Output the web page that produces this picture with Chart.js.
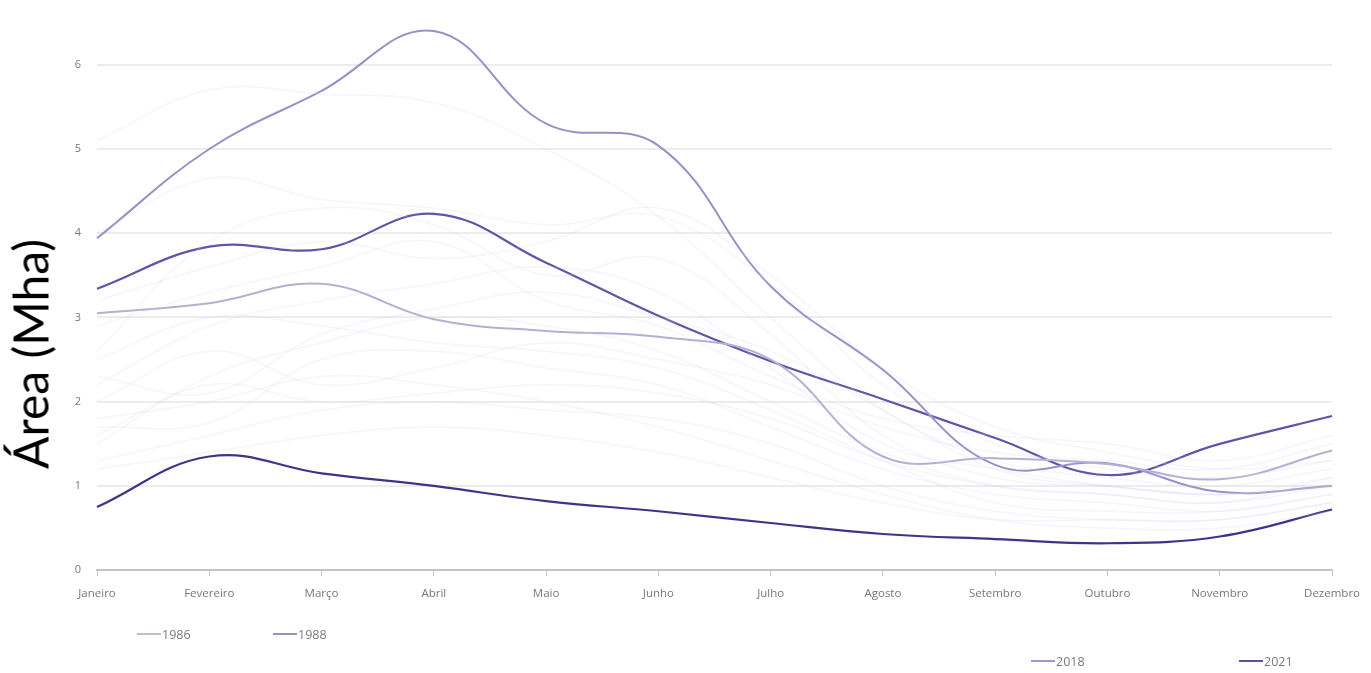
<!DOCTYPE html>
<html lang="pt">
<head>
    <meta charset="UTF-8">
    <title>Área queimada mensal</title>
    <script src="https://cdn.jsdelivr.net/npm/chart.js"></script>
    <style>
        html, body { margin: 0; padding: 0; background: #fff; }
        #wrap { position: relative; width: 1371px; height: 673px; }
        .leg { position: absolute; font: 12.5px "Open Sans", sans-serif; color: #7a7a7a; display: flex; align-items: center; height: 16px; }
        .leg span.sw { display: inline-block; width: 24px; height: 2px; margin-right: 1px; }
        #ytitle {
            position: absolute; left: 30px; top: 354px;
            transform: translate(-50%, -50%) rotate(-90deg);
            font: 48px Lato, sans-serif; color: #000; white-space: nowrap;
        }
    </style>
</head>
<body>
    <div id="wrap">
        <canvas id="myChart" width="1371" height="673"></canvas>
        <div id="ytitle">Área (Mha)</div>
        <div class="leg" style="left:137px; top:626px;"><span class="sw" style="background:#c2bcd6"></span>1986</div>
        <div class="leg" style="left:273px; top:626px;"><span class="sw" style="background:#9a92bc"></span>1988</div>
        <div class="leg" style="left:1031px; top:653px;"><span class="sw" style="background:#a592d0"></span>2018</div>
        <div class="leg" style="left:1239px; top:653px;"><span class="sw" style="background:#5a54a4"></span>2021</div>
    </div>

    <script>
        // meses
        const months = ['Janeiro', 'Fevereiro', 'Março', 'Abril', 'Maio', 'Junho', 'Julho', 'Agosto', 'Setembro', 'Outubro', 'Novembro', 'Dezembro'];

        // anos destacados (Mha)
        const y1986 = [3.05, 3.17, 3.40, 2.98, 2.84, 2.77, 2.50, 1.35, 1.33, 1.26, 1.08, 1.42];
        const y1988 = [3.94, 5.00, 5.69, 6.40, 5.30, 5.04, 3.37, 2.38, 1.25, 1.27, 0.93, 1.00];
        const y2018 = [3.34, 3.84, 3.81, 4.23, 3.65, 3.02, 2.48, 2.03, 1.57, 1.13, 1.50, 1.83];
        const y2021 = [0.75, 1.35, 1.15, 1.00, 0.82, 0.70, 0.56, 0.43, 0.37, 0.32, 0.40, 0.72];

        // demais anos (linhas de fundo)
        const otherYears = [
            [5.1, 5.7, 5.65, 5.55, 5.0, 4.2, 3.0, 1.9, 1.3, 1.1, 1.0, 1.2],
            [4.0, 4.65, 4.4, 4.3, 4.1, 4.2, 3.4, 2.2, 1.5, 1.2, 1.1, 1.3],
            [2.6, 3.9, 4.3, 4.1, 3.5, 3.7, 2.8, 1.6, 1.1, 1.0, 0.9, 1.1],
            [2.2, 2.9, 3.2, 3.4, 3.6, 3.3, 2.4, 1.5, 1.2, 1.0, 0.9, 1.0],
            [1.7, 1.75, 2.5, 2.6, 2.4, 2.2, 1.7, 1.2, 0.9, 0.8, 0.7, 0.9],
            [1.5, 2.3, 2.7, 3.0, 2.9, 2.6, 2.0, 1.4, 1.0, 0.9, 0.8, 1.1],
            [2.0, 2.6, 2.2, 2.4, 2.7, 2.5, 2.2, 1.7, 1.4, 1.3, 1.2, 1.5],
            [1.3, 1.6, 1.9, 2.0, 1.9, 1.8, 1.5, 1.0, 0.7, 0.6, 0.6, 0.8],
            [2.5, 3.0, 2.9, 2.7, 2.6, 2.4, 1.9, 1.3, 0.8, 0.7, 0.7, 0.9],
            [1.8, 2.0, 2.3, 2.2, 2.0, 1.7, 1.3, 0.9, 0.6, 0.5, 0.5, 0.7],
            [2.9, 3.3, 3.6, 3.9, 3.2, 2.9, 2.3, 1.8, 1.6, 1.5, 1.3, 1.6],
            [1.2, 1.4, 1.6, 1.7, 1.6, 1.4, 1.1, 0.8, 0.6, 0.6, 0.6, 0.8],
            [2.3, 2.1, 2.8, 3.1, 3.3, 3.0, 2.6, 1.9, 1.2, 1.0, 0.9, 1.0],
            [3.2, 3.6, 3.9, 3.7, 3.9, 4.3, 3.5, 2.4, 1.7, 1.4, 1.2, 1.3],
            [1.6, 2.2, 2.0, 2.1, 2.2, 2.1, 1.8, 1.3, 1.0, 0.9, 0.8, 1.0]
        ];

        const yTicks = [0, 1, 2, 3, 4, 5, 6];

        const datasets = [];
        otherYears.forEach(function (d) {
            datasets.push({ data: d, borderColor: 'rgba(210,210,240,0.22)', borderWidth: 1.5 });
        });
        datasets.push({ label: '1986', data: y1986, borderColor: '#b8aed4', borderWidth: 2 });
        datasets.push({ label: '1988', data: y1988, borderColor: '#9c8fc6', borderWidth: 2 });
        datasets.push({ label: '2018', data: y2018, borderColor: '#5d57a6', borderWidth: 2.2 });
        datasets.push({ label: '2021', data: y2021, borderColor: '#3c3689', borderWidth: 2.2 });

        const config = {
            type: 'line',
            data: { labels: months, datasets: datasets },
            options: {
                responsive: false,
                animation: false,
                layout: { padding: { left: 0, right: 38, top: 5, bottom: 61 } },
                elements: {
                    point: { radius: 0 },
                    line: { tension: 0.4, fill: false }
                },
                plugins: {
                    legend: { display: false },
                    tooltip: { enabled: false }
                },
                scales: {
                    x: {
                        grid: { drawOnChartArea: false, drawTicks: true, tickLength: 6, color: '#c4c4c4' },
                        border: { color: '#c4c4c4', width: 2 },
                        ticks: { color: '#777', font: { family: 'Open Sans', size: 11.5 }, padding: 11, maxRotation: 0 }
                    },
                    y: {
                        min: 0,
                        max: 6.5,
                        afterBuildTicks: function (s) { s.ticks = yTicks.map(function (v) { return { value: v }; }); },
                        afterFit: function (s) { s.width = 97; },
                        grid: { color: '#ececec', lineWidth: 2, drawTicks: false },
                        border: { display: false },
                        ticks: { color: '#777', font: { family: 'Open Sans', size: 11 }, padding: 16 }
                    }
                }
            }
        };

        const ctx = document.getElementById('myChart').getContext('2d');
        const myChart = new Chart(ctx, config);
    </script>
</body>
</html>
